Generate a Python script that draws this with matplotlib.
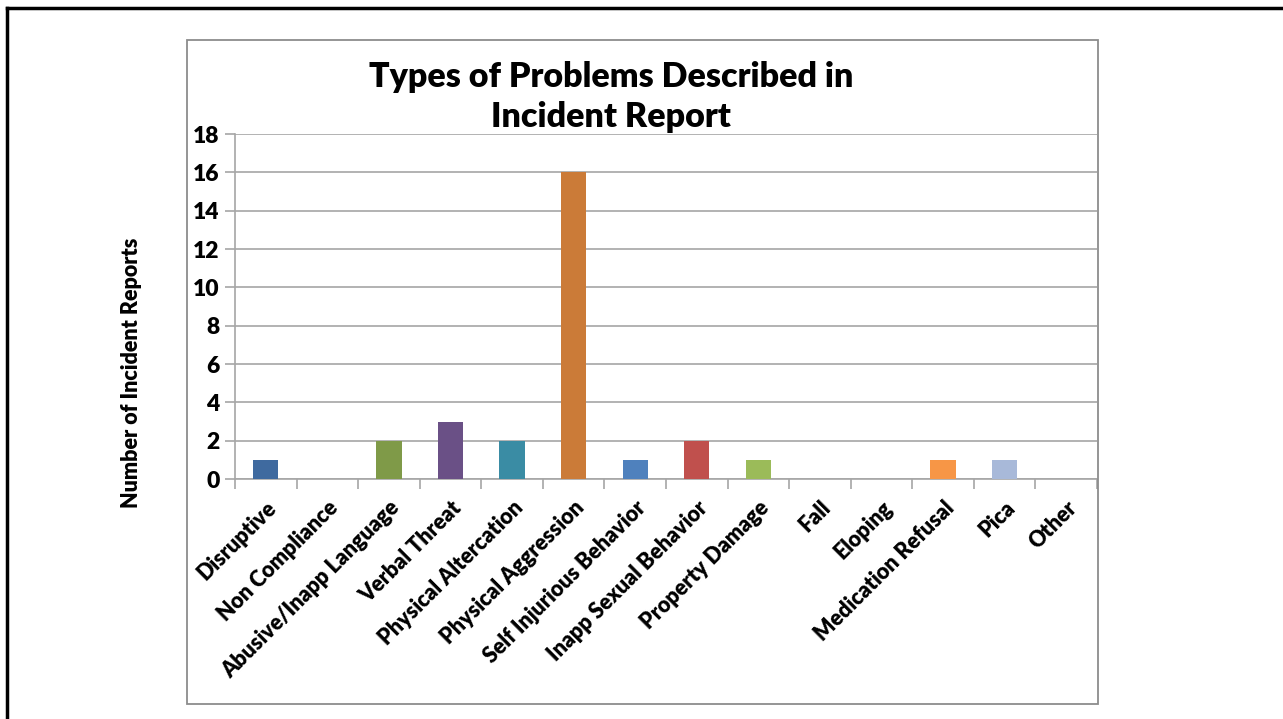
import numpy as np
import matplotlib.pyplot as plt
from matplotlib.patches import Rectangle
from matplotlib.lines import Line2D

plt.rcParams['font.family'] = ['Lato', 'DejaVu Sans']
plt.rcParams['font.weight'] = 'bold'

# incident report counts by problem type
categories = ['Disruptive', 'Non Compliance', 'Abusive/Inapp Language', 'Verbal Threat',
              'Physical Altercation', 'Physical Aggression', 'Self Injurious Behavior',
              'Inapp Sexual Behavior', 'Property Damage', 'Fall', 'Eloping',
              'Medication Refusal', 'Pica', 'Other']
counts = [1, 0, 2, 3, 2, 16, 1, 2, 1, 0, 0, 1, 1, 0]
colors = ['#3F6A9F', '#A5473F', '#7F9A48', '#6A5086', '#3A8CA4', '#CB7B38', '#4F81BD',
          '#C0504D', '#9BBB59', '#8064A2', '#4BACC6', '#F79646', '#A8B9D9', '#D99694']

W, H = 1283, 719
fig = plt.figure(figsize=(W / 100, H / 100), dpi=100)

# slide frame (left and top edges)
fig.add_artist(Line2D([7 / W, 7 / W], [0, 1 - 8 / H], color='black', lw=2.5,
                      transform=fig.transFigure))
fig.add_artist(Line2D([7 / W, 1], [1 - 8 / H, 1 - 8 / H], color='black', lw=2.5,
                      transform=fig.transFigure))
# chart area border
fig.add_artist(Rectangle((187 / W, 1 - 704 / H), (1098 - 187) / W, (704 - 40) / H,
                         fill=False, edgecolor='#8C8C8C', lw=1.3,
                         transform=fig.transFigure))

ax = fig.add_axes([235 / W, 1 - 479 / H, (1097 - 235) / W, (479 - 134) / H])
x = np.arange(len(categories))
ax.bar(x, counts, width=0.41, color=colors, zorder=3)

ax.set_xlim(-0.5, len(categories) - 0.5)
ax.set_ylim(0, 18)
ax.set_yticks(range(0, 19, 2))
ax.grid(axis='y', color='#A6A6A6', lw=1.2, zorder=0)
ax.set_axisbelow(True)

ax.set_xticks(x)
ax.set_xticklabels(categories, rotation=45, ha='right', rotation_mode='anchor',
                   fontsize=15.5, fontweight='heavy')
ax.set_xticks(np.arange(-0.5, len(categories)), minor=True)
ax.tick_params(axis='x', which='major', length=0, pad=13)
ax.tick_params(axis='x', which='minor', length=7, color='#A6A6A6', width=1.2)
ax.tick_params(axis='y', length=7, color='#A6A6A6', width=1.2, labelsize=16.5, pad=4)
for lab in ax.get_yticklabels():
    lab.set_fontweight('heavy')

for s in ['top', 'right']:
    ax.spines[s].set_visible(False)
ax.spines['left'].set_color('#A6A6A6')
ax.spines['left'].set_linewidth(1.2)
ax.spines['bottom'].set_color('#A6A6A6')
ax.spines['bottom'].set_linewidth(1.2)

fig.text(611 / W, 1 - 97 / H, 'Types of Problems Described in\nIncident Report',
         ha='center', va='center', fontsize=24.5, fontweight='heavy', linespacing=1.3)
fig.text(131 / W, 1 - 373 / H, 'Number of Incident Reports', rotation=90,
         ha='center', va='center', fontsize=15.5, fontweight='heavy')

fig.savefig('out.png', dpi=100)
